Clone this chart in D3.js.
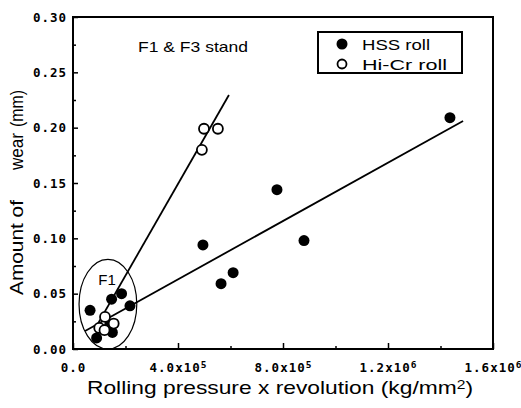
<!DOCTYPE html>
<html>
<head>
<meta charset="utf-8">
<script src="https://cdn.jsdelivr.net/npm/d3@7"></script>
<style>
  body { margin: 0; background: #fff; }
  svg text { fill: #000; }
  .lbl { font-family: "Liberation Sans", Arial, sans-serif; }
  .tk { font-family: "DejaVu Sans Mono", monospace; font-weight: bold; font-size: 12.5px; letter-spacing: 1px; }
</style>
</head>
<body>
<svg width="521" height="408"></svg>
<script>
// HSS roll (filled)
var hssX = [1.436e6, 0.777e6, 0.88e6, 0.495e6, 0.61e6, 0.564e6,
            0.065e6, 0.147e6, 0.185e6, 0.217e6, 0.09e6, 0.15e6, 0.14e6];
var hssY = [0.209, 0.144, 0.098, 0.094, 0.069, 0.059,
            0.035, 0.045, 0.050, 0.039, 0.010, 0.015, 0.022];
// Hi-Cr roll (open)
var hicrX = [0.499e6, 0.552e6, 0.491e6, 0.122e6, 0.155e6, 0.10e6, 0.12e6];
var hicrY = [0.199, 0.199, 0.180, 0.029, 0.023, 0.019, 0.017];
// fitted lines (end points)
var hssFitX = [0.046e6, 1.486e6];
var hssFitY = [0.0163, 0.206];
var hicrFitX = [0.088e6, 0.594e6];
var hicrFitY = [0.020, 0.2295];

var xMajor = [0, 4e5, 8e5, 1.2e6, 1.6e6];
var xLabels = [["0.0", ""], ["4.0x10", "5"], ["8.0x10", "5"], ["1.2x10", "6"], ["1.6x10", "6"]];
var xMinor = [2e5, 6e5, 1e6, 1.4e6];
var yMajor = [0, 0.05, 0.10, 0.15, 0.20, 0.25, 0.30];
var yMinor = [0.025, 0.075, 0.125, 0.175, 0.225, 0.275];

var svg = d3.select("svg");

var x = d3.scaleLinear().domain([0, 1.6e6]).range([73, 493]);
var y = d3.scaleLinear().domain([0, 0.30]).range([349, 17]);

// ticks (inward)
svg.append("g")
    .attr("transform", "translate(0," + y(0) + ")")
    .call(d3.axisBottom(x).tickValues(xMinor).tickSize(-3).tickFormat(""))
    .call(function(g) { g.select(".domain").remove(); });

var xg = svg.append("g")
    .attr("transform", "translate(0," + y(0) + ")")
    .call(d3.axisBottom(x).tickValues(xMajor).tickSize(-6).tickPadding(14).tickFormat(""))
    .call(function(g) { g.select(".domain").remove(); });

xg.selectAll(".tick text").each(function(d, i) {
    var t = d3.select(this).attr("class", "tk");
    t.append("tspan").text(xLabels[i][0]);
    if (xLabels[i][1]) {
        t.append("tspan").attr("dy", -4).style("font-size", "9.5px").text(xLabels[i][1]);
    }
});

svg.append("g")
    .attr("transform", "translate(" + x(0) + ",0)")
    .call(d3.axisLeft(y).tickValues(yMinor).tickSize(-3).tickFormat(""))
    .call(function(g) { g.select(".domain").remove(); });

svg.append("g")
    .attr("transform", "translate(" + x(0) + ",0)")
    .call(d3.axisLeft(y).tickValues(yMajor).tickSize(-5).tickPadding(6).tickFormat(d3.format(".2f")))
    .call(function(g) { g.select(".domain").remove(); })
    .selectAll(".tick text")
    .attr("class", "tk");

svg.selectAll(".tick line").attr("stroke", "#000").attr("stroke-width", 1.5);

// frame
svg.append("rect")
    .attr("x", x(0)).attr("y", y(0.30))
    .attr("width", x(1.6e6) - x(0)).attr("height", y(0) - y(0.30))
    .attr("fill", "none").attr("stroke", "#000").attr("stroke-width", 2);

// fit lines
var line = d3.line().x(function(d) { return x(d[0]); }).y(function(d) { return y(d[1]); });
svg.append("path")
    .attr("d", line(d3.zip(hssFitX, hssFitY)))
    .attr("fill", "none").attr("stroke", "#000").attr("stroke-width", 1.8);
svg.append("path")
    .attr("d", line(d3.zip(hicrFitX, hicrFitY)))
    .attr("fill", "none").attr("stroke", "#000").attr("stroke-width", 1.8);

// F1 ellipse
svg.append("ellipse")
    .attr("cx", x(0.133e6)).attr("cy", y(0.0405))
    .attr("rx", x(0.11e6) - x(0)).attr("ry", y(0) - y(0.0405))
    .attr("fill", "none").attr("stroke", "#000").attr("stroke-width", 1.2);

svg.append("text").attr("class", "lbl")
    .attr("x", x(0.13e6)).attr("y", y(0.0632) + 6)
    .attr("text-anchor", "middle").attr("font-size", 15)
    .text("F1");

// points
svg.selectAll(".hss")
    .data(d3.zip(hssX, hssY))
    .enter().append("circle")
    .attr("class", "hss")
    .attr("cx", function(d) { return x(d[0]); })
    .attr("cy", function(d) { return y(d[1]); })
    .attr("r", 5.5)
    .attr("fill", "#000");

svg.selectAll(".hicr")
    .data(d3.zip(hicrX, hicrY))
    .enter().append("circle")
    .attr("class", "hicr")
    .attr("cx", function(d) { return x(d[0]); })
    .attr("cy", function(d) { return y(d[1]); })
    .attr("r", 5)
    .attr("fill", "#fff")
    .attr("stroke", "#000")
    .attr("stroke-width", 1.8);

// annotation
svg.append("text").attr("class", "lbl")
    .attr("x", 138).attr("y", 52)
    .attr("font-size", 15)
    .attr("textLength", 110).attr("lengthAdjust", "spacingAndGlyphs")
    .text("F1 & F3 stand");

// legend
svg.append("rect")
    .attr("x", 318).attr("y", 32).attr("width", 144).attr("height", 41)
    .attr("fill", "#fff").attr("stroke", "#000").attr("stroke-width", 2);
svg.append("circle").attr("cx", 342).attr("cy", 44).attr("r", 5.5).attr("fill", "#000");
svg.append("circle").attr("cx", 342).attr("cy", 64).attr("r", 4.5)
    .attr("fill", "#fff").attr("stroke", "#000").attr("stroke-width", 1.8);
svg.append("text").attr("class", "lbl").attr("x", 362).attr("y", 50).attr("font-size", 15)
    .attr("textLength", 68).attr("lengthAdjust", "spacingAndGlyphs").text("HSS roll");
svg.append("text").attr("class", "lbl").attr("x", 362).attr("y", 70).attr("font-size", 15)
    .attr("textLength", 85).attr("lengthAdjust", "spacingAndGlyphs").text("Hi-Cr roll");

// axis titles
var xt = svg.append("text").attr("class", "lbl")
    .attr("x", 87).attr("y", 394)
    .attr("font-size", 19)
    .attr("textLength", 386).attr("lengthAdjust", "spacingAndGlyphs");
xt.append("tspan").text("Rolling pressure x revolution (kg/mm");
xt.append("tspan").attr("dy", -5).attr("font-size", 13).text("2");
xt.append("tspan").attr("dy", 5).text(")");

var yt = svg.append("g").attr("transform", "translate(23,0) rotate(-90)");
yt.append("text").attr("class", "lbl").attr("x", -295).attr("y", 0).attr("font-size", 19)
    .attr("textLength", 95).attr("lengthAdjust", "spacingAndGlyphs").text("Amount of");
yt.append("text").attr("class", "lbl").attr("x", -170).attr("y", 0).attr("font-size", 19)
    .attr("textLength", 37).attr("lengthAdjust", "spacingAndGlyphs").text("wear");
yt.append("text").attr("class", "lbl").attr("x", -127).attr("y", 0).attr("font-size", 19)
    .attr("textLength", 37).attr("lengthAdjust", "spacingAndGlyphs").text("(mm)");
</script>
</body>
</html>
